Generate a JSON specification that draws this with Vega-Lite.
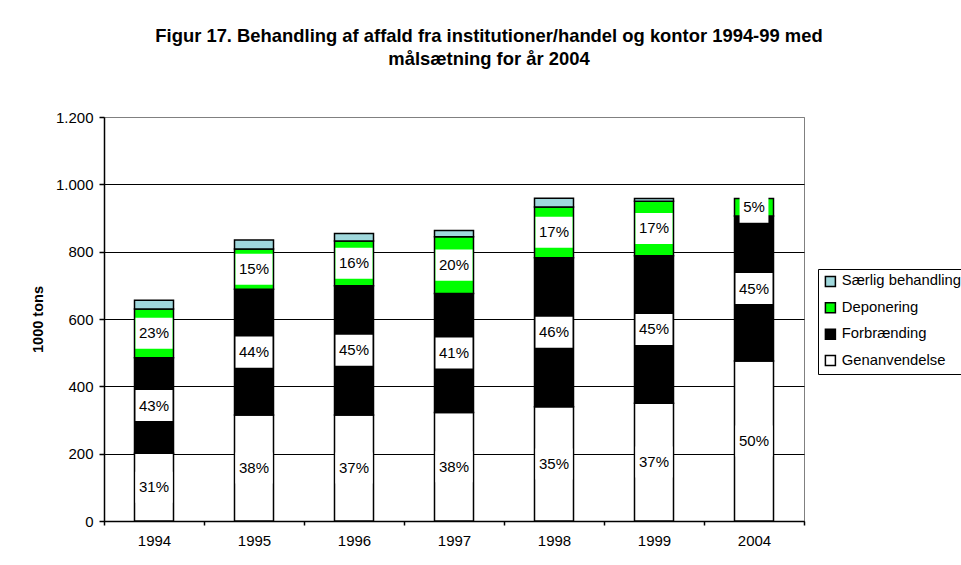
{
  "$schema": "https://vega.github.io/schema/vega-lite/v6.json",
  "width": 700,
  "height": 404,
  "autosize": {"type": "none"},
  "padding": {"left": 104, "top": 117, "right": 157, "bottom": 44},
  "background": "white",
  "title": {
    "text": ["Figur 17. Behandling af affald fra institutioner/handel og kontor 1994-99 med", "målsætning for år 2004"],
    "font": "Liberation Sans", "fontSize": 18.4, "fontWeight": "bold", "lineHeight": 23,
    "anchor": "middle", "frame": "bounds", "offset": 40, "dx": -10, "dy": -2, "color": "black"
  },
  "config": {
    "font": "Liberation Sans",
    "view": {"stroke": "#808080", "strokeWidth": 1}
  },
  "data": {
    "values": [
      {"year": "1994", "cat": "Genanvendelse", "n": 1, "tons": 201, "pct": "31%"},
      {"year": "1994", "cat": "Forbrænding", "n": 2, "tons": 284, "pct": "43%"},
      {"year": "1994", "cat": "Deponering", "n": 3, "tons": 145, "pct": "23%"},
      {"year": "1994", "cat": "Særlig behandling", "n": 4, "tons": 26},
      {"year": "1995", "cat": "Genanvendelse", "n": 1, "tons": 315, "pct": "38%"},
      {"year": "1995", "cat": "Forbrænding", "n": 2, "tons": 373, "pct": "44%"},
      {"year": "1995", "cat": "Deponering", "n": 3, "tons": 120, "pct": "15%"},
      {"year": "1995", "cat": "Særlig behandling", "n": 4, "tons": 27},
      {"year": "1996", "cat": "Genanvendelse", "n": 1, "tons": 315, "pct": "37%"},
      {"year": "1996", "cat": "Forbrænding", "n": 2, "tons": 384, "pct": "45%"},
      {"year": "1996", "cat": "Deponering", "n": 3, "tons": 133, "pct": "16%"},
      {"year": "1996", "cat": "Særlig behandling", "n": 4, "tons": 22},
      {"year": "1997", "cat": "Genanvendelse", "n": 1, "tons": 322, "pct": "38%"},
      {"year": "1997", "cat": "Forbrænding", "n": 2, "tons": 354, "pct": "41%"},
      {"year": "1997", "cat": "Deponering", "n": 3, "tons": 168, "pct": "20%"},
      {"year": "1997", "cat": "Særlig behandling", "n": 4, "tons": 19},
      {"year": "1998", "cat": "Genanvendelse", "n": 1, "tons": 339, "pct": "35%"},
      {"year": "1998", "cat": "Forbrænding", "n": 2, "tons": 443, "pct": "46%"},
      {"year": "1998", "cat": "Deponering", "n": 3, "tons": 151, "pct": "17%"},
      {"year": "1998", "cat": "Særlig behandling", "n": 4, "tons": 26},
      {"year": "1999", "cat": "Genanvendelse", "n": 1, "tons": 350, "pct": "37%"},
      {"year": "1999", "cat": "Forbrænding", "n": 2, "tons": 438, "pct": "45%"},
      {"year": "1999", "cat": "Deponering", "n": 3, "tons": 162, "pct": "17%"},
      {"year": "1999", "cat": "Særlig behandling", "n": 4, "tons": 8},
      {"year": "2004", "cat": "Genanvendelse", "n": 1, "tons": 475, "pct": "50%"},
      {"year": "2004", "cat": "Forbrænding", "n": 2, "tons": 431, "pct": "45%"},
      {"year": "2004", "cat": "Deponering", "n": 3, "tons": 52, "pct": "5%"}
    ]
  },
  "encoding": {
    "x": {
      "field": "year", "type": "nominal", "sort": null,
      "scale": {"paddingInner": 0, "paddingOuter": 0},
      "axis": {
        "title": null, "labelAngle": 0, "labelFontSize": 15, "labelColor": "black",
        "labelPadding": 8, "tickSize": 4, "tickColor": "black", "tickWidth": 1.5,
        "tickBand": "extent", "domainColor": "black", "domainWidth": 1.5, "grid": false
      }
    }
  },
  "layer": [
    {
      "mark": {"type": "bar", "width": 39, "stroke": "black", "strokeWidth": 1.5, "opacity": 1},
      "encoding": {
        "y": {
          "field": "tons", "type": "quantitative", "stack": "zero",
          "scale": {"domain": [0, 1200], "nice": false},
          "axis": {
            "title": "1000 tons", "titleFontSize": 14.5, "titleFontWeight": "bold", "titleColor": "black",
            "titlePadding": 10, "values": [0, 200, 400, 600, 800, 1000, 1200],
            "labelExpr": "replace(format(datum.value, ','), ',', '.')",
            "labelFontSize": 15, "labelColor": "black", "labelPadding": 6,
            "tickSize": 5, "tickColor": "black", "tickWidth": 1.5,
            "domainColor": "black", "domainWidth": 1.5,
            "grid": true, "gridWidth": 1,
            "gridColor": {"condition": {"test": "datum.value == 1200", "value": "#808080"}, "value": "black"}
          }
        },
        "color": {
          "field": "cat", "type": "nominal",
          "scale": {
            "domain": ["Særlig behandling", "Deponering", "Forbrænding", "Genanvendelse"],
            "range": ["#A0D8DC", "#00FF00", "#000000", "#FFFFFF"]
          },
          "legend": {
            "title": null, "orient": "none", "legendX": 714, "legendY": 152,
            "labelFontSize": 14.8, "labelColor": "black", "symbolType": "square", "symbolSize": 100,
            "symbolStrokeColor": "black", "symbolStrokeWidth": 1.5, "symbolOpacity": 1,
            "strokeColor": "black", "fillColor": "white", "padding": 5, "rowPadding": 9.4, "labelOffset": 4
          }
        },
        "order": {"field": "n", "type": "quantitative"}
      }
    },
    {
      "transform": [{"filter": "isValid(datum.pct)"}],
      "mark": {"type": "point", "filled": true, "fill": "white", "opacity": 1, "strokeWidth": 0, "size": 1369},
      "encoding": {
        "y": {"field": "tons", "type": "quantitative", "stack": "zero", "bandPosition": 0.5},
        "detail": {"field": "cat"},
        "order": {"field": "n", "type": "quantitative"},
        "shape": {
          "condition": {"test": "length(datum.pct) < 3", "value": "M-0.78,-0.84L0.78,-0.84L0.78,0.84L-0.78,0.84Z"},
          "value": "M-1,-0.84L1,-0.84L1,0.84L-1,0.84Z"
        }
      }
    },
    {
      "transform": [{"filter": "isValid(datum.pct)"}],
      "mark": {"type": "text", "fontSize": 15, "color": "black", "baseline": "middle", "align": "center"},
      "encoding": {
        "y": {"field": "tons", "type": "quantitative", "stack": "zero", "bandPosition": 0.5},
        "detail": {"field": "cat"},
        "order": {"field": "n", "type": "quantitative"},
        "text": {"field": "pct"}
      }
    }
  ]
}
